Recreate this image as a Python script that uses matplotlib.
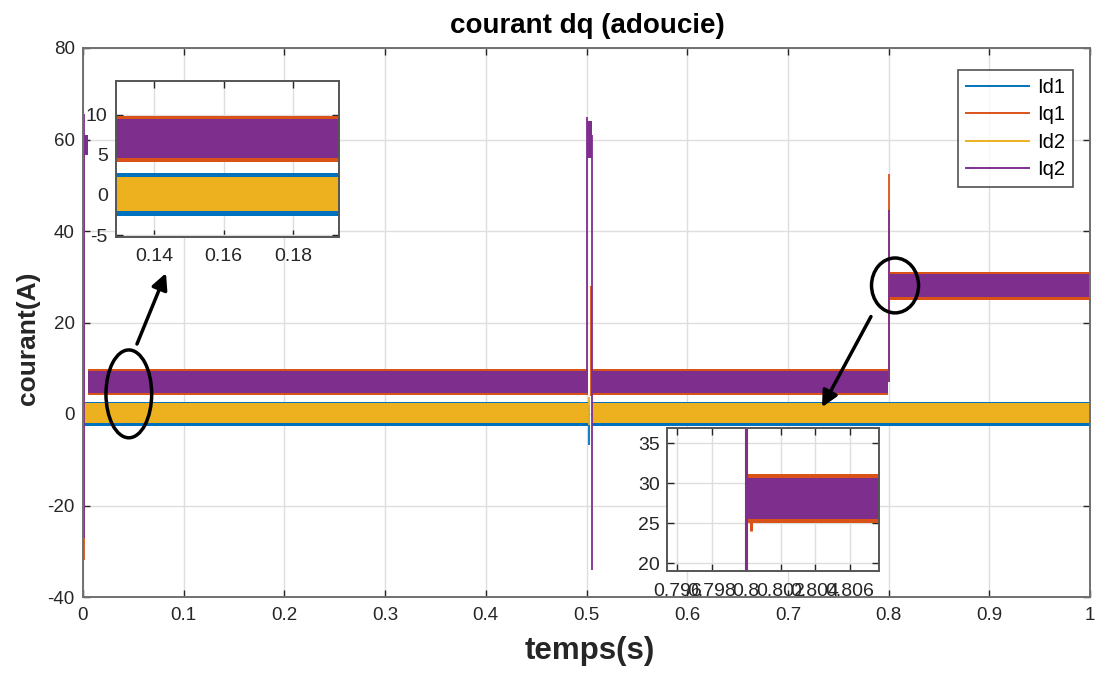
import matplotlib
matplotlib.use("Agg")
import matplotlib.pyplot as plt
from matplotlib.patches import Ellipse
from matplotlib.lines import Line2D

plt.rcParams['font.family'] = ['Liberation Sans', 'DejaVu Sans']
plt.rcParams['axes.unicode_minus'] = False

# ---- series identity -------------------------------------------------------
names = ['Id1', 'Iq1', 'Id2', 'Iq2']
colors = ['#0072BD', '#D95319', '#EDB120', '#7E2F8E']

# ---- steady-state ripple envelopes (A) on each interval --------------------
id_t0 = [0.0, 0.5055, 0.8]
id_t1 = [0.5015, 0.8, 1.0]
iq_t0 = [0.005, 0.5055, 0.8]
iq_t1 = [0.5015, 0.7995, 1.0]

id1_lo = [-2.6, -2.6, -2.6]
id1_hi = [2.7, 2.7, 2.7]
iq1_lo = [4.1, 4.1, 25.0]
iq1_hi = [9.8, 9.8, 31.1]
id2_lo = [-2.0, -2.0, -2.0]
id2_hi = [2.3, 2.3, 2.3]
iq2_lo = [4.6, 4.6, 25.5]
iq2_hi = [9.5, 9.5, 30.7]

# ---- transients: vertical excursions at start-up and load steps ------------
id1_spk_t = [0.0008, 0.5025]
id1_spk_lo = [-3.0, -6.8]
id1_spk_hi = [3.0, 2.0]
iq1_spk_t = [0.0008, 0.5045, 0.8, 0.8003]
iq1_spk_lo = [-32.0, 4.0, 7.0, 24.0]
iq1_spk_hi = [60.0, 28.0, 52.5, 30.5]
id2_spk_t = [0.0008, 0.5025]
id2_spk_lo = [-2.0, -2.5]
id2_spk_hi = [3.0, 3.8]
iq2_spk_t = [0.001, 0.5005, 0.5055, 0.8]
iq2_spk_lo = [-27.0, 7.0, -34.0, 7.0]
iq2_spk_hi = [65.5, 65.0, 61.0, 44.5]

# short Iq2 plateaus right after each start-up
iq2_blk_t0 = [0.001, 0.5005]
iq2_blk_t1 = [0.005, 0.5055]
iq2_blk_lo = [56.6, 56.0]
iq2_blk_hi = [61.0, 64.0]

# ---- axis ticks -------------------------------------------------------------
main_xticks = [0, 0.1, 0.2, 0.3, 0.4, 0.5, 0.6, 0.7, 0.8, 0.9, 1.0]
main_xlabels = ['0', '0.1', '0.2', '0.3', '0.4', '0.5', '0.6', '0.7', '0.8', '0.9', '1']
main_yticks = [-40, -20, 0, 20, 40, 60, 80]
in1_xticks = [0.14, 0.16, 0.18]
in1_xlabels = ['0.14', '0.16', '0.18']
in1_yticks = [-5, 0, 5, 10]
in2_xticks = [0.796, 0.798, 0.800, 0.802, 0.804, 0.806]
in2_xlabels = ['0.796', '0.798', '0.8', '0.802', '0.804', '0.806']
in2_yticks = [20, 25, 30, 35]

bands = [
    (id_t0, id_t1, id1_lo, id1_hi),
    (iq_t0, iq_t1, iq1_lo, iq1_hi),
    (id_t0, id_t1, id2_lo, id2_hi),
    (iq_t0, iq_t1, iq2_lo, iq2_hi),
]
spikes = [
    (id1_spk_t, id1_spk_lo, id1_spk_hi),
    (iq1_spk_t, iq1_spk_lo, iq1_spk_hi),
    (id2_spk_t, id2_spk_lo, id2_spk_hi),
    (iq2_spk_t, iq2_spk_lo, iq2_spk_hi),
]


def draw_currents(ax, spike_lw):
    for k, c in enumerate(colors):
        t0s, t1s, los, his = bands[k]
        for a, b, lo, hi in zip(t0s, t1s, los, his):
            ax.fill_between([a, b], [lo, lo], [hi, hi], color=c, lw=0,
                            zorder=2 + k * 0.1)
        st, slo, shi = spikes[k]
        ax.vlines(st, slo, shi, colors=c, lw=spike_lw, zorder=2.05 + k * 0.1)
        if names[k] == 'Iq2':
            for a, b, lo, hi in zip(iq2_blk_t0, iq2_blk_t1, iq2_blk_lo, iq2_blk_hi):
                ax.fill_between([a, b], [lo, lo], [hi, hi], color=c, lw=0,
                                zorder=2.35)


def style_axes(ax, spine_col, pad_x, pad_y, fs):
    for s in ax.spines.values():
        s.set_color(spine_col)
        s.set_linewidth(1.4)
    ax.tick_params(direction='in', top=True, right=True, length=5, width=1,
                   color='#262626', labelcolor='#262626', labelsize=fs)
    ax.tick_params(axis='x', pad=pad_x)
    ax.tick_params(axis='y', pad=pad_y)
    ax.grid(True, color='#dedede', lw=1)
    ax.set_axisbelow(True)


fig = plt.figure(figsize=(11.02, 6.73), dpi=100)

# ---- main axes -------------------------------------------------------------
ax = fig.add_axes([83 / 1102, 1 - 597 / 673, 1007 / 1102, 549 / 673])
draw_currents(ax, 1.3)
ax.set_xlim(0, 1)
ax.set_ylim(-40, 80)
ax.set_xticks(main_xticks)
ax.set_xticklabels(main_xlabels)
ax.set_yticks(main_yticks)
style_axes(ax, '#707070', 7, 6, 13.5)

handles = [Line2D([0], [0], color=c, lw=1.4) for c in colors]
leg = ax.legend(handles, names, loc='upper right',
                bbox_to_anchor=(0.983, 0.96), fontsize=14.5, frameon=True,
                fancybox=False, edgecolor='#262626', handlelength=3.1,
                handletextpad=0.4, labelspacing=0.42, borderpad=0.4,
                borderaxespad=0)
leg.get_frame().set_linewidth(1.2)
leg.set_zorder(20)

# highlight rings and pointers
ax.add_patch(Ellipse((0.0455, 4.4), 0.0454, 19.2, fill=False, ec='black',
                     lw=2.5, zorder=10))
ax.add_patch(Ellipse((0.8064, 28.1), 0.0467, 12.0, fill=False, ec='black',
                     lw=2.5, zorder=10))
arrow = dict(arrowstyle='-|>', color='black', lw=2.5, mutation_scale=24,
             shrinkA=0, shrinkB=0)
ax.annotate('', xy=(0.0824, 30.8), xytext=(0.0536, 15.3), arrowprops=arrow,
            zorder=10)
ax.annotate('', xy=(0.7339, 1.5), xytext=(0.7825, 21.3), arrowprops=arrow,
            zorder=10)

# ---- inset: steady state around 0.16 s -------------------------------------
ax1 = fig.add_axes([116 / 1102, 1 - 236.7 / 673, 223 / 1102, 155.7 / 673])
draw_currents(ax1, 1.3)
ax1.set_xlim(0.129, 0.1932)
ax1.set_ylim(-5.2, 14.2)
ax1.set_xticks(in1_xticks)
ax1.set_xticklabels(in1_xlabels)
ax1.set_yticks(in1_yticks)
style_axes(ax1, '#555555', 8, 6, 14)
ax1.set_zorder(15)

# ---- inset: load step at 0.8 s ---------------------------------------------
ax2 = fig.add_axes([667 / 1102, 1 - 571 / 673, 212 / 1102, 143 / 673])
draw_currents(ax2, 2.2)
ax2.set_xlim(0.7954, 0.8077)
ax2.set_ylim(19, 36.9)
ax2.set_xticks(in2_xticks)
ax2.set_xticklabels(in2_xlabels)
ax2.set_yticks(in2_yticks)
style_axes(ax2, '#555555', 9, 5, 14)
ax2.set_zorder(15)

# ---- texts -------------------------------------------------------------------
fig.text(587 / 1102, 1 - 26 / 673, 'courant dq (adoucie)', ha='center',
         va='center', fontsize=20, fontweight='bold', color='black')
fig.text(590 / 1102, 1 - 651 / 673, 'temps(s)', ha='center', va='center',
         fontsize=22.5, fontweight='bold', color='#262626')
fig.text(28 / 1102, 1 - 338 / 673, 'courant(A)', ha='center', va='center',
         rotation=90, fontsize=19, fontweight='bold', color='#262626')

fig.savefig('out.png', dpi=100, facecolor='white')
